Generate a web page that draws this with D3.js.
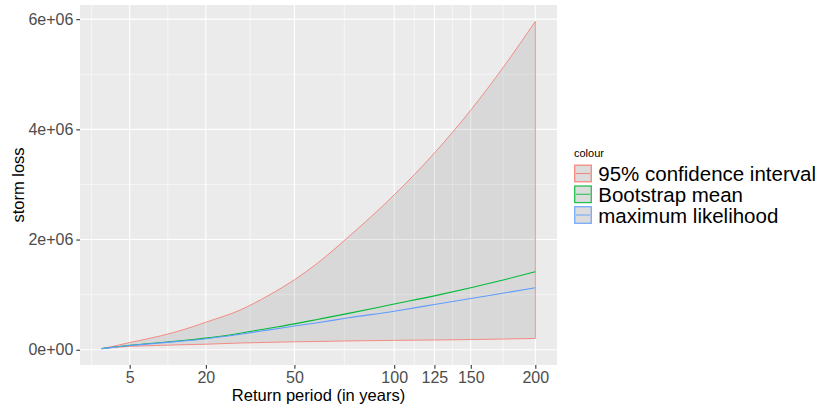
<!DOCTYPE html>
<html>
<head>
<meta charset="utf-8">
<script src="https://cdn.jsdelivr.net/npm/d3@7"></script>
<style>
  html, body { margin: 0; padding: 0; background: #ffffff; }
  svg { display: block; font-family: "Liberation Sans", Arial, sans-serif; }
</style>
</head>
<body>
<svg id="chart" width="830" height="408"></svg>
<script>
// Return periods (years) at which the estimates are evaluated
const returnPeriod = [2, 3, 5, 7.5, 10, 15, 20, 30, 40, 50, 60, 75, 100, 125, 150, 175, 200];
// Storm loss estimates
const upperCI   = [20000, 60000, 130000, 195000, 255000, 375000, 500000, 720000, 990000, 1270000, 1570000, 2050000, 2810000, 3570000, 4350000, 5150000, 5960000];
const lowerCI   = [20000, 40000, 62000, 72000, 80000, 92000, 100000, 122000, 134000, 144000, 150000, 160000, 170000, 176000, 185000, 194000, 205000];
const bootMean  = [20000, 45000, 80000, 108000, 130000, 172000, 210000, 300000, 390000, 470000, 550000, 660000, 830000, 978000, 1125000, 1270000, 1415000];
const maxLik    = [20000, 43000, 76000, 102000, 125000, 163000, 200000, 282000, 360000, 430000, 490000, 580000, 700000, 820000, 930000, 1030000, 1125000];

const xBreaks = [5, 20, 50, 100, 125, 150, 200];
const yBreaks = [0, 2e6, 4e6, 6e6];
const yMinor  = [1e6, 3e6, 5e6];

const seriesNames  = ["95% confidence interval", "Bootstrap mean", "maximum likelihood"];
const seriesColors = ["#F8766D", "#00BA38", "#619CFF"];

const svg = d3.select("#chart");
const panel = { left: 80, right: 557, top: 5, bottom: 365 };

// square-root x axis, expanded by 5% of the transformed data range
const sqrtMin = Math.sqrt(d3.min(returnPeriod)), sqrtMax = Math.sqrt(d3.max(returnPeriod));
const sPad = (sqrtMax - sqrtMin) * 0.05;
const x = d3.scalePow().exponent(0.5)
  .domain([Math.pow(sqrtMin - sPad, 2), Math.pow(sqrtMax + sPad, 2)])
  .range([panel.left, panel.right]);

const yMin = d3.min(lowerCI), yMax = d3.max(upperCI);
const yPad = (yMax - yMin) * 0.05;
const y = d3.scaleLinear()
  .domain([yMin - yPad, yMax + yPad])
  .range([panel.bottom, panel.top]);

// panel background
svg.append("rect")
  .attr("x", panel.left).attr("y", panel.top)
  .attr("width", panel.right - panel.left).attr("height", panel.bottom - panel.top)
  .attr("fill", "#EBEBEB");

// minor x grid: midpoints of the breaks in sqrt space (plus one either side)
const sb = xBreaks.map(Math.sqrt);
const sbExt = [sb[0] - (sb[1] - sb[0])].concat(sb);
const xMinor = [];
for (let i = 0; i < sbExt.length - 1; i++) xMinor.push(Math.pow((sbExt[i] + sbExt[i + 1]) / 2, 2));
xMinor.push(Math.pow(sb[sb.length - 1] + (sb[sb.length - 1] - sb[sb.length - 2]) / 2, 2));

const grid = svg.append("g");
grid.selectAll("line.xminor").data(xMinor.filter(v => x(v) >= panel.left && x(v) <= panel.right)).join("line")
  .attr("x1", d => x(d)).attr("x2", d => x(d))
  .attr("y1", panel.top).attr("y2", panel.bottom)
  .attr("stroke", "#fff").attr("stroke-width", 0.55);
grid.selectAll("line.yminor").data(yMinor).join("line")
  .attr("x1", panel.left).attr("x2", panel.right)
  .attr("y1", d => y(d)).attr("y2", d => y(d))
  .attr("stroke", "#fff").attr("stroke-width", 0.55);
grid.selectAll("line.xmajor").data(xBreaks).join("line")
  .attr("x1", d => x(d)).attr("x2", d => x(d))
  .attr("y1", panel.top).attr("y2", panel.bottom)
  .attr("stroke", "#fff").attr("stroke-width", 1.1);
grid.selectAll("line.ymajor").data(yBreaks).join("line")
  .attr("x1", panel.left).attr("x2", panel.right)
  .attr("y1", d => y(d)).attr("y2", d => y(d))
  .attr("stroke", "#fff").attr("stroke-width", 1.1);

// confidence ribbon (closed, outlined area)
const rows = returnPeriod.map((t, i) => ({ t, lo: lowerCI[i], hi: upperCI[i], bm: bootMean[i], ml: maxLik[i] }));
const ribbon = d3.area().curve(d3.curveMonotoneX)
  .x(r => x(r.t)).y0(r => y(r.lo)).y1(r => y(r.hi));
svg.append("path")
  .attr("d", ribbon(rows))
  .attr("fill", "#333333").attr("fill-opacity", 0.1)
  .attr("stroke", seriesColors[0]).attr("stroke-width", 1).attr("stroke-opacity", 0.8);

const line = key => d3.line().curve(d3.curveMonotoneX).x(r => x(r.t)).y(r => y(r[key]));
svg.append("path").attr("d", line("bm")(rows))
  .attr("fill", "none").attr("stroke", seriesColors[1]).attr("stroke-width", 1.1);
svg.append("path").attr("d", line("ml")(rows))
  .attr("fill", "none").attr("stroke", seriesColors[2]).attr("stroke-width", 1.1);

// axes
const xAxis = svg.append("g").attr("transform", `translate(0,${panel.bottom})`)
  .call(d3.axisBottom(x).tickValues(xBreaks).tickFormat(d3.format("d")).tickSize(3.7).tickPadding(3));
const yAxis = svg.append("g").attr("transform", `translate(${panel.left},0)`)
  .call(d3.axisLeft(y).tickValues(yBreaks).tickSize(3.7).tickPadding(3)
    .tickFormat(d => d === 0 ? "0e+00" : d3.format(".0e")(d).replace("e+", "e+0")));
[xAxis, yAxis].forEach(a => {
  a.select(".domain").remove();
  a.selectAll(".tick line").attr("stroke", "#333333").attr("stroke-width", 1.1);
  a.selectAll(".tick text").attr("fill", "#4D4D4D").attr("font-size", 16)
    .attr("font-family", "Liberation Sans, Arial, sans-serif");
});

// axis titles
svg.append("text")
  .attr("x", (panel.left + panel.right) / 2).attr("y", 401)
  .attr("text-anchor", "middle").attr("font-size", 16.5).attr("fill", "#000")
  .text("Return period (in years)");
svg.append("text")
  .attr("transform", `translate(24,${(panel.top + panel.bottom) / 2}) rotate(-90)`)
  .attr("text-anchor", "middle").attr("font-size", 16.5).attr("fill", "#000")
  .text("storm loss");

// legend
const legend = svg.append("g").attr("transform", "translate(574,0)");
legend.append("text").attr("x", 0).attr("y", 156.5)
  .attr("font-size", 11).attr("fill", "#000").text("colour");
const keyTop = [164.5, 185.3, 206];
seriesNames.forEach((name, i) => {
  const g = legend.append("g").attr("transform", `translate(0,${keyTop[i]})`);
  g.append("rect").attr("x", 0.7).attr("y", 0.7).attr("width", 16.6).attr("height", 16.6)
    .attr("fill", "#DCDCDC").attr("stroke", seriesColors[i]).attr("stroke-width", 1.3)
    .attr("stroke-opacity", 0.85);
  g.append("line").attr("x1", 2).attr("x2", 16).attr("y1", 9).attr("y2", 9)
    .attr("stroke", seriesColors[i]).attr("stroke-width", 1.1).attr("stroke-opacity", 0.8);
  g.append("text").attr("x", 24.3).attr("y", 16.6)
    .attr("font-size", 20.5).attr("fill", "#000").text(name);
});
</script>
</body>
</html>
